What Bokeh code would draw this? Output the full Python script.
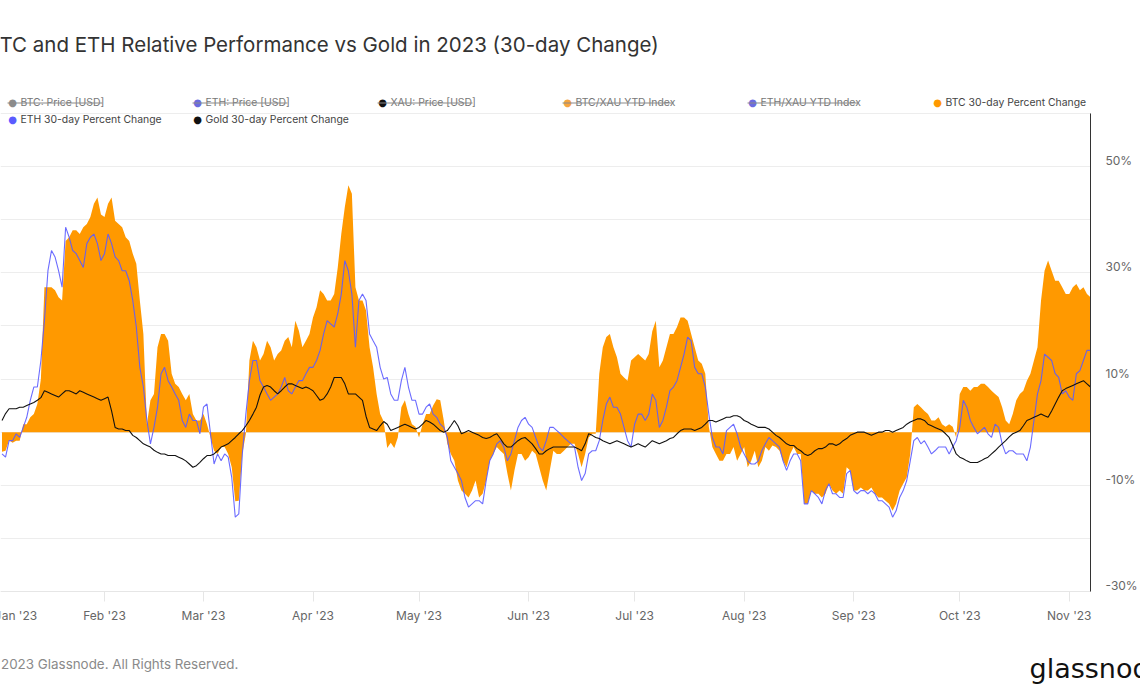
import pandas as pd
from bokeh.plotting import figure
from bokeh.models import (Range1d, LinearAxis, FixedTicker, DatetimeTickFormatter,
                          PrintfTickFormatter, Label, BoxAnnotation, ColumnDataSource)
from bokeh.embed import file_html
from bokeh.resources import INLINE

# ---------------- data: daily 30-day percent change, from 2023-01-03 ----------------
start_date = "2023-01-03"
btc_30d = [
    -3.7, -3.5, -1.5, -2, -1.6, -1.6, 1.5, 1.5, 2.8, 3.4,
    5.3, 10, 27.3, 27.3, 27.3, 26.7, 25.4, 24.8, 36, 36.7,
    38, 38, 37.3, 38.6, 39.2, 40.5, 43, 44.2, 41, 40.5,
    43, 44.2, 39.8, 39.2, 38.6, 36.7, 36, 33.6, 31.7, 24.8,
    18.5, 1.5, 6, 7.2, 16, 18.5, 18.5, 17.2, 11, 9.1,
    8.5, 7.2, 6, 7.2, 3.4, 2.2, 2.2, 3.4, 1.5, -1,
    -3.5, -4.1, -2.8, -2.8, -4.1, -6.6, -13, -12.9, -4.1, -0.3,
    13.5, 17.2, 16, 13.5, 14.7, 17.2, 16, 13.5, 14.7, 15.4,
    17.2, 17.9, 16, 21, 19.1, 16, 17.2, 18.5, 21.6, 23.5,
    26.7, 26, 24.8, 24.8, 26, 31, 37.3, 42.4, 46.5, 44.9,
    27.3, 24.8, 24.8, 22.9, 16, 12.2, 7.2, 3.4, 2, -3,
    -2, -3, -1, 4.7, 6, 3.4, 1.5, 1, -1, 1.5,
    3.4, 3.4, 5, 6.2, 6, 2.2, -2.2, -4.1, -5.4, -9.1,
    -11, -11.6, -12.3, -11, -9.1, -12.3, -11.6, -9.1, -5.4, -4.1,
    -2.8, -3.5, -4.1, -7.8, -11, -7.2, -4.1, -4.1, -5.4, -4.7,
    -3.5, -4.1, -6.6, -9.1, -11, -7.2, -3.5, -4.1, -4.1, -3.5,
    -2.8, -2.2, -2.2, -4.1, -6.6, -4.1, -1, -0.3, -0.3, 11,
    16, 17.9, 18.5, 16, 14.1, 11, 10.3, 9.7, 13.5, 14.1,
    14.7, 14.1, 13.5, 14.7, 19, 21, 12.2, 13.5, 16, 18.5,
    18.5, 19.8, 21.6, 21.6, 21, 18.5, 16, 13.5, 12.9, 11,
    1, -2.8, -4.1, -5.4, -5.4, -4.1, -4.1, -2.8, -5.4, -4.1,
    -2.8, -6.6, -5.4, -3.5, -6.6, -5.4, -2.8, -3.5, -2.5, -2.8,
    -3.5, -5.4, -6.6, -4.1, -2.8, -4.1, -4.1, -13.5, -13.5, -11,
    -11.6, -11.6, -12.3, -11.6, -9.7, -11, -11.6, -11, -11.6, -6.6,
    -7.2, -11, -11, -10.4, -11, -11, -10.4, -11.6, -12.3, -12.3,
    -12.9, -13.5, -14.8, -13.5, -11, -9.7, -8.5, -4.1, 4.7, 5.3,
    4.7, 4, 3.4, 2.2, 2.2, 2.8, 1.5, 1, 1.5, 1,
    -1, 7.2, 8.5, 8.5, 7.8, 8.5, 8.5, 9.1, 9.1, 8.5,
    7.8, 7.2, 6.6, 4.7, 2.2, 1.5, 3.4, 6, 7.2, 7.8,
    9.7, 11, 13.5, 16, 24.8, 30.4, 32.3, 30.4, 28.5, 28.5,
    27.3, 26, 26, 27.3, 27.9, 26.7, 27.3, 26, 25.4,
]
eth_30d = [
    -4.1, -4.7, -1.6, -1.6, -0.3, -1, 0.9, 2.8, 6, 8.5,
    8.5, 13.5, 21, 30.4, 34.2, 33, 30.4, 27.3, 38.6, 36.7,
    34.2, 33.6, 32.3, 31, 35.5, 36.7, 37.3, 35.5, 32.3, 33.6,
    37.3, 35.5, 33, 32.3, 30.4, 30.4, 28.5, 24.8, 19.8, 12.2,
    8.5, 2.2, -2.2, 0.9, 4.7, 11, 12.2, 9.7, 8.5, 7.2,
    6, 2.2, 0.9, 3.4, 2.2, 2.2, -0.3, 4.7, 5.3, -0.3,
    -6, -4.1, -5.4, -4.1, -4.7, -8.5, -16, -15.4, -4.1, 3.4,
    9.7, 13.5, 13.5, 9.7, 8.5, 7.2, 6, 6.6, 7.2, 8.5,
    10.3, 7.8, 7.2, 8.5, 9.7, 9.7, 11, 12.2, 12.2, 13.5,
    15.4, 18.5, 21, 20.4, 19.8, 22.3, 26, 32.3, 30.4, 26,
    16, 24.8, 26, 24.8, 18.5, 17.2, 16, 12.2, 10, 10.3,
    7.2, 6, 6, 9.7, 12.2, 8.5, 6, 6, 3.4, 3.4,
    4.7, 5.3, 3.4, 2.8, 1.5, 0.9, -1, -5.4, -6.6, -7.8,
    -9.1, -12.3, -14.1, -13.5, -12.9, -12.9, -13.5, -9.1, -5.4, -4.1,
    -2.2, -1.6, -2.8, -5.4, -4.1, -1.6, 0.9, 2.2, 2.8, 1.5,
    0.9, -1, -2.8, -3.5, -1.6, 0.9, 0.9, 0.3, -0.3, -1,
    -1.6, -2.2, -2.8, -6.6, -9.1, -7.8, -4.1, -3.5, -3.5, -1.6,
    2.2, 5.3, 6.6, 4.7, 4.7, 3.4, 0.9, -1.6, -2.8, 1.5,
    3.4, 3.4, 2.2, 3.4, 7.2, 6, 0.9, 2.2, 4.7, 7.8,
    8.5, 9.7, 12.2, 14.7, 17.9, 17.2, 12.2, 11, 11, 8.5,
    3.4, -1, -2.8, -2.8, -4.1, 0.3, 0.9, 1.5, -0.3, -2.8,
    -4.1, -5.4, -6, -6, -5.4, -3.5, -2.2, -1, -1.6, -2.2,
    -2.8, -5.4, -7.2, -5.4, -4.1, -4.1, -5.4, -13.5, -13.5, -11,
    -11.6, -12.3, -13.5, -11, -9.7, -11.6, -11.6, -12.3, -12.3, -7.8,
    -7.2, -11, -11.6, -11, -11, -11.6, -11, -11.6, -12.9, -12.9,
    -13.5, -14.1, -16, -14.8, -12.3, -11, -9.1, -5.4, -1.6, -1,
    -2.2, -1.6, -2.8, -4.1, -3.5, -2.8, -2.8, -2.8, -4.1, -2.8,
    -1.6, 0.9, 6, 4.7, 2.2, 0.9, -0.3, 0.3, 0.9, -0.3,
    -1, 1.5, 0.9, -2.2, -4.1, -3.5, -3.5, -4.1, -4.1, -4.1,
    -5.4, -2.8, 2.2, 7.2, 9.7, 14.7, 14.1, 13.5, 11, 10.3,
    7.2, 7.8, 6.6, 6, 11, 11.6, 13.5, 15.4, 15.4,
]
gold_30d = [
    2.2, 3.5, 4.4, 4.4, 4.4, 4.7, 4.7, 5, 5.3, 5.6,
    6, 6.5, 7.8, 7.5, 7.2, 6.9, 6.6, 7.2, 7.8, 7.8,
    7.5, 7.2, 7.8, 7.5, 7.2, 6.9, 6.6, 6.3, 6, 6.3,
    6.6, 4, 0.9, 0.6, 0.6, 0.3, 0.3, -0.6, -1, -1.6,
    -2.2, -2.5, -2.8, -3.4, -3.8, -4.1, -4.1, -4.4, -4.4, -4.4,
    -4.7, -5, -5.4, -6, -6.6, -6.3, -5.7, -5, -4.4, -4.4,
    -4.1, -3.5, -2.8, -2.5, -2.2, -1.6, -1, -0.3, 0.3, 1.2,
    2.2, 3.4, 4.7, 7, 8.5, 8.8, 8.5, 7.8, 7.2, 7.8,
    8.5, 9.1, 9.1, 8.8, 8.5, 8.2, 8.5, 8.2, 7.8, 6.9,
    6, 6.3, 7.2, 8.5, 10.3, 10.3, 10.3, 9.1, 7.2, 7.2,
    7.2, 6.6, 6, 3, 0.9, 0.6, 0.3, 1.2, 2, 1.5,
    0.3, 0.6, 0.9, 1.2, 1.5, 1.2, 0.9, 0.6, 0.9, 1.5,
    2.2, 1.9, 1.5, 0.9, 0.3, 0, 0.3, 1.2, 2.2, 1.2,
    -0.3, 0, 0.3, 0, -0.3, -0.6, -1, -1.2, -1, -0.6,
    -0.3, -1.2, -2.2, -2.8, -2.8, -2.2, -1.6, -1.2, -1, -1.6,
    -2.2, -3.1, -4.1, -4.1, -3.5, -3.1, -2.8, -2.8, -2.8, -2.8,
    -2.8, -2.8, -2.8, -3.1, -3.5, -2.2, -0.3, -0.6, -1, -1.2,
    -1.6, -1.9, -2.2, -1.9, -1.6, -1.9, -2.2, -2.5, -2.8, -2.5,
    -2.2, -2.5, -2.8, -2.2, -1.6, -1.9, -2.2, -1.9, -1.6, -1.2,
    -1, -0.3, 0.3, 0.6, 0.6, 0.6, 0.3, 0.6, 0.9, 1.5,
    2.2, 2.2, 1.9, 2.2, 2.5, 2.8, 2.8, 3.1, 3.1, 2.8,
    2.2, 1.9, 1.5, 1.2, 0.9, 0.9, 0.9, 0.6, 0, -0.6,
    -1, -1.6, -2.2, -2.5, -2.5, -3.1, -3.5, -4.1, -4.4, -4.1,
    -3.5, -3.1, -3.1, -2.8, -2.2, -2.2, -2.5, -2.2, -1.6, -1.2,
    -0.6, -0.3, 0, 0, 0, -0.3, -0.6, -0.3, 0, 0,
    0.3, 0.3, 0, 0.3, 0.6, 0.9, 1.5, 1.9, 2.2, 2.5,
    2.5, 2.2, 1.5, 1.2, 0.9, 0.6, 0.3, -0.3, -1, -2.5,
    -4.1, -4.7, -5, -5.4, -5.7, -5.7, -5.7, -5.4, -5, -4.7,
    -4.1, -3.5, -2.8, -2.2, -1.6, -0.9, -0.3, 0, 0.3, 1.2,
    2.2, 2.5, 2.8, 3.1, 3.4, 3.1, 2.8, 4, 5.3, 6.6,
    7.8, 8.2, 8.5, 8.8, 9.1, 9.4, 9.7, 9.1, 8.5,
]

month_ticks = pd.date_range("2023-02-01", "2023-11-01", freq="MS")
first_month_label = "Jan '23"
grid_ticks = list(range(-30, 61, 10))
label_ticks = [-30, -10, 10, 30, 50]

legend_names = ["BTC: Price [USD]", "ETH: Price [USD]", "XAU: Price [USD]",
                "BTC/XAU YTD Index", "ETH/XAU YTD Index", "BTC 30-day Percent Change",
                "ETH 30-day Percent Change", "Gold 30-day Percent Change"]
legend_colors = ["#8c8c8c", "#6b6bdf", "#111111", "#f5a540", "#6b6bdf",
                 "#ff9900", "#5b5bff", "#111111"]
legend_hidden = [True, True, True, True, True, False, False, False]

title_text = "BTC and ETH Relative Performance vs Gold in 2023 (30-day Change)"
footer_text = "\u00a9 2023 Glassnode. All Rights Reserved."
logo_text = "glassnode"

# ---------------- geometry ----------------
FONT = "Inter"
W, H = 1140, 694
F_TOP, F_BOT, F_RIGHT = 113, 591, 1090      # plotting area inside the canvas
Y_LO, Y_HI = -30, 60
ppu = (F_BOT - F_TOP) / (Y_HI - Y_LO)       # px per percent
y_canvas_lo = Y_LO - (H - F_BOT) / ppu
y_canvas_hi = Y_HI + F_TOP / ppu

t0 = pd.Timestamp("2023-01-02 13:43")
t_axis = pd.Timestamp("2023-11-07 00:00")
t1 = t0 + (t_axis - t0) * (W / F_RIGHT)


def ms(t):
    return t.value // 10**6


def series_source(vals, key):
    return ColumnDataSource({"date": pd.date_range(start_date, periods=len(vals), freq="D"), key: vals})


p = figure(width=W, height=H, x_axis_type="datetime", title=None,
           x_range=Range1d(t0, t1), y_range=Range1d(y_canvas_lo, y_canvas_hi),
           y_axis_location=None, output_backend="svg", toolbar_location=None,
           min_border=0, min_border_left=0, min_border_right=0,
           min_border_top=0, min_border_bottom=0)
p.outline_line_color = None
p.background_fill_color = "white"
p.border_fill_color = "white"
p.xgrid.visible = False
p.ygrid.ticker = FixedTicker(ticks=grid_ticks)
p.ygrid.grid_line_color = "#ededed"

# hide grid beyond the right axis (underlay: above grid, below data and axes)
p.add_layout(BoxAnnotation(left=F_RIGHT + 0.5, right=W + 5, bottom=-5, top=H + 5,
                           left_units="screen", right_units="screen",
                           top_units="screen", bottom_units="screen",
                           fill_color="white", fill_alpha=1, line_color=None, level="underlay"))

# series
p.varea(x="date", y1=0, y2="btc", source=series_source(btc_30d, "btc"),
        fill_color="#ff9900", fill_alpha=1.0)
p.line(x="date", y="eth", source=series_source(eth_30d, "eth"),
       line_color="#5b5bff", line_width=1.1, line_alpha=0.9)
p.line(x="date", y="gold", source=series_source(gold_30d, "gold"),
       line_color="#111111", line_width=1.1)

# x axis, fixed at the bottom of the plotting area
xa = p.xaxis[0]
xa.fixed_location = Y_LO
xa.bounds = (ms(t0), ms(t_axis))
xa.ticker = FixedTicker(ticks=[ms(t) for t in month_ticks])
fmt = "%b '%y"
xa.formatter = DatetimeTickFormatter(days=fmt, months=fmt, years=fmt, hours=fmt, hourmin=fmt)
xa.axis_line_color = "#e6e6e6"
xa.major_tick_line_color = "#e6e6e6"
xa.major_tick_out = 10
xa.major_tick_in = 0
xa.minor_tick_line_color = None
xa.major_label_standoff = 6
xa.major_label_text_font = FONT
xa.major_label_text_font_size = "12px"
xa.major_label_text_color = "#666666"

# right y axis, labels sit ~6px above their grid lines like the reference
shift = 6 / ppu
p.extra_y_ranges = {"lab": Range1d(y_canvas_lo - shift, y_canvas_hi - shift)}
ya = LinearAxis(y_range_name="lab", ticker=FixedTicker(ticks=label_ticks),
                formatter=PrintfTickFormatter(format="%d%%"))
ya.fixed_location = ms(t_axis)
ya.bounds = (Y_LO - shift, Y_HI - shift)
ya.axis_line_color = "#333333"
ya.major_tick_line_color = None
ya.major_tick_out = 0
ya.major_tick_in = 0
ya.minor_tick_line_color = None
ya.major_label_standoff = 15
ya.major_label_text_font = FONT
ya.major_label_text_font_size = "12px"
ya.major_label_text_color = "#666666"
p.add_layout(ya, "right")


def text(x, cy, s, size, color, align="left", baseline="middle", font=FONT):
    p.add_layout(Label(x=x, y=H - cy, x_units="screen", y_units="screen", text=s,
                       text_font=font, text_font_size=size, text_color=color,
                       text_align=align, text_baseline=baseline))


# title
text(-13.3, 44, title_text, "20.5px", "#333333")

# legend
col_x = [12, 197, 382, 567, 752, 937]
text_end = [102, 287, 472, 673, 858, 0]
row_y = [102, 119]
for i, (name, color, hidden) in enumerate(zip(legend_names, legend_colors, legend_hidden)):
    r, c = divmod(i, 6)
    dx, cy = col_x[c], row_y[r]
    text(dx, cy, "\u25cf", "10px", color, align="center", font="DejaVu Sans")
    text(dx + 8, cy, name, "10.4px", "#777777" if hidden else "#444444")
    if hidden:
        p.add_layout(BoxAnnotation(left=dx - 5, right=text_end[c], top=H - cy, bottom=H - cy - 1,
                                   left_units="screen", right_units="screen",
                                   top_units="screen", bottom_units="screen",
                                   fill_color="#8a8a8a", fill_alpha=1, line_color=None))

# first month label, justified into the chart like the reference
text(15.5, 615, first_month_label, "12px", "#666666", align="center")

# footer
text(-15.5, 663, footer_text, "13.4px", "#8a8a8a")
text(1029, 668, logo_text, "27px", "#111111", baseline="alphabetic", font="DejaVu Sans")

open("out.html", "w").write(file_html(p, INLINE))
